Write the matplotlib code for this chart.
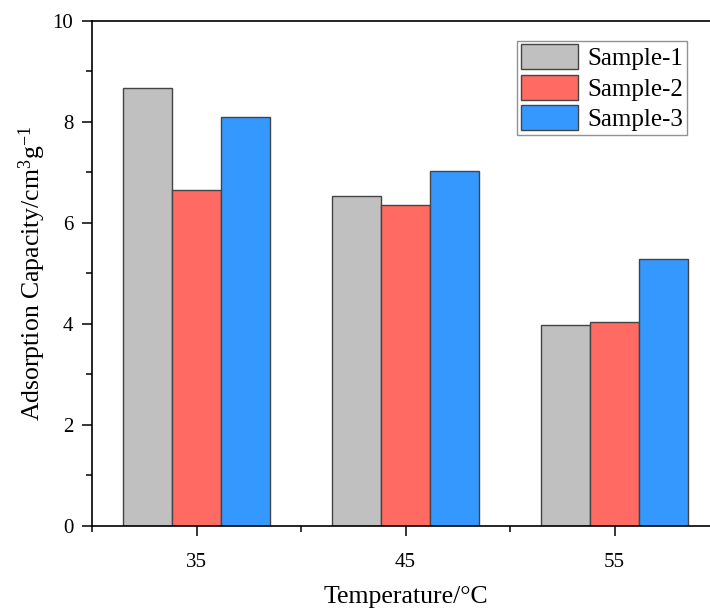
import matplotlib
matplotlib.use("Agg")
import matplotlib.pyplot as plt
import numpy as np
from matplotlib.ticker import MultipleLocator, FixedLocator

plt.rcParams['font.family'] = ['Liberation Serif', 'DejaVu Serif']
plt.rcParams['mathtext.fontset'] = 'custom'
plt.rcParams['mathtext.rm'] = 'Liberation Serif'
plt.rcParams['mathtext.it'] = 'Liberation Serif:italic'

temperatures = ["35", "45", "55"]
series_names = ["Sample-1", "Sample-2", "Sample-3"]
sample1 = [8.67, 6.54, 3.98]
sample2 = [6.65, 6.35, 4.03]
sample3 = [8.10, 7.02, 5.29]
colors = ["#C0C0C0", "#FF6B62", "#3598FF"]

fig = plt.figure(figsize=(7.1, 6.08), dpi=100)
# axes runs slightly past the right edge, like the cropped original
ax = fig.add_axes([92 / 710, 82 / 608, 627 / 710, 505.3 / 608])

x = np.arange(len(temperatures))
width = 0.233
for i, (vals, name, c) in enumerate(zip([sample1, sample2, sample3], series_names, colors)):
    ax.bar(x + (i - 1) * width, vals, width, color=c, edgecolor="#444444",
           linewidth=1.0, label=name, zorder=2)

ax.set_xlim(-0.5, 2.5)
ax.set_ylim(0, 10)

ax.set_xticks(x)
ax.set_xticklabels(temperatures)
ax.xaxis.set_minor_locator(FixedLocator([-0.5, 0.5, 1.5, 2.5]))
ax.yaxis.set_major_locator(MultipleLocator(2))
ax.yaxis.set_minor_locator(MultipleLocator(1))

ax.tick_params(axis='both', which='major', direction='out', length=7.5, width=1.1,
               labelsize=15)
ax.tick_params(axis='both', which='minor', direction='out', length=4.3, width=1.1)
ax.tick_params(axis='x', which='major', pad=12)
ax.tick_params(axis='y', which='major', pad=6)

for side in ['left', 'bottom', 'top']:
    ax.spines[side].set_linewidth(1.2)
ax.spines['right'].set_visible(False)

ax.set_xlabel("Temperature/°C", fontsize=18.5, labelpad=10)
ax.set_ylabel(r"Adsorption Capacity/cm$^{3}$g$^{-1}$", fontsize=18.5, labelpad=3)

leg = ax.legend(loc='upper left', bbox_to_anchor=(517 / 710, 1 - 40.7 / 608),
                bbox_transform=fig.transFigure, borderaxespad=0, fontsize=18,
                frameon=True, fancybox=False, shadow=False, handlelength=2.3,
                handleheight=1.15, labelspacing=0.18, handletextpad=0.35,
                borderpad=0.15)
leg.get_frame().set_edgecolor("#777777")
leg.get_frame().set_linewidth(1.0)

fig.savefig("out.png", dpi=100)
